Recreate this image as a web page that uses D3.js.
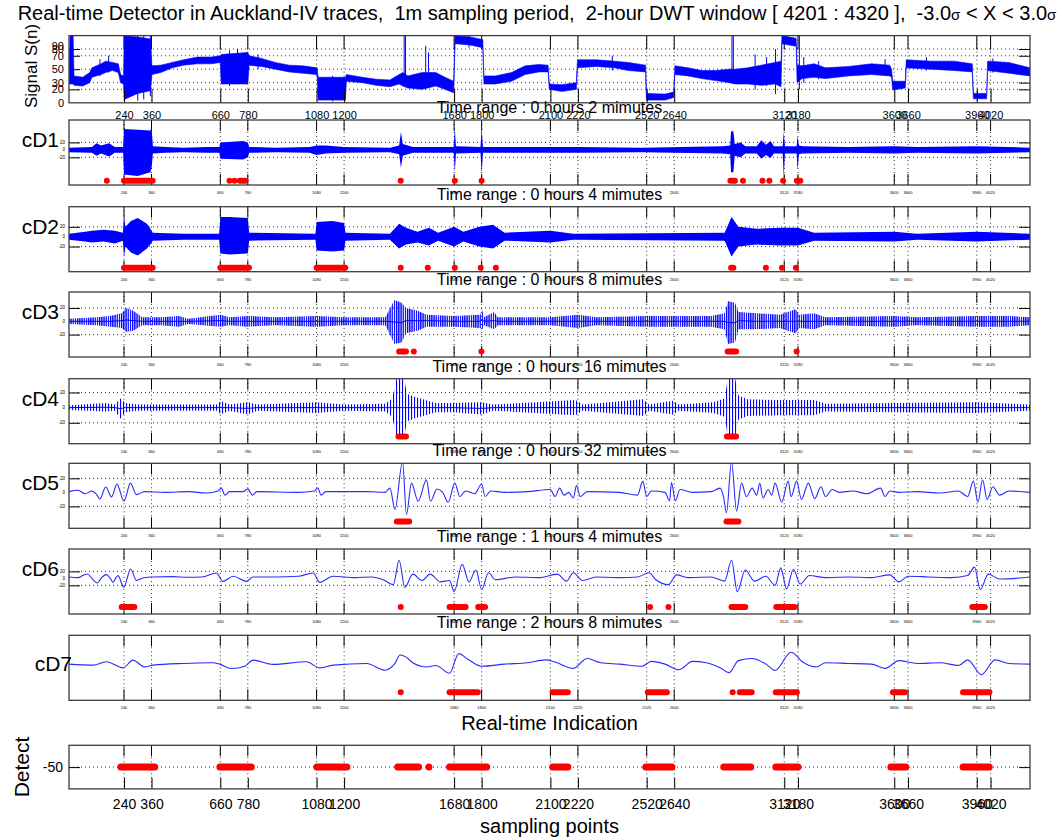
<!DOCTYPE html>
<html lang="en">
<head>
<meta charset="UTF-8">
<title>Real-time Detector in Auckland-IV traces</title>
<script src="https://d3js.org/d3.v7.min.js"></script>
<style>
  body { margin: 0; background: #fff; }
  svg text { font-family: Arial, 'Liberation Sans', sans-serif; fill: #000; }
</style>
</head>
<body>
<svg width="1064" height="840"></svg>
<script>
// ---- data ----
const ticksX = [240, 360, 660, 780, 1080, 1200, 1680, 1800, 2100, 2220, 2520, 2640, 3120, 3180, 3600, 3660, 3960, 4020];
const xMax = 4192;

const topTickVals = [0, 20, 30, 50, 70, 80, 84];
const topTickLabels = ["0", "20", "30", "50", "70", "80", "90"];
const topGrid = [20, 30, 50, 70, 80];

// raw signal S(n): [sample, low, high] (core of the noisy trace)
const signalEnv = [
  [0, 28, 35], [5, 28, 100], [18, 28, 100], [22, 26, 40], [60, 25, 38], [90, 30, 45], [100, 38, 52],
  [140, 42, 58], [160, 45, 62], [190, 48, 60], [215, 45, 58], [225, 30, 42], [238, 28, 40],
  [241, 5, 100], [300, 14, 98], [355, 18, 95], [362, 42, 55], [400, 45, 56], [450, 52, 60],
  [500, 56, 64], [560, 58, 68], [620, 58, 68], [660, 60, 70], [664, 28, 72], [780, 28, 75],
  [786, 56, 70], [840, 54, 66], [900, 50, 60], [960, 46, 56], [1020, 44, 55], [1082, 42, 52],
  [1087, 4, 38], [1206, 4, 38], [1210, 32, 42], [1280, 30, 38], [1340, 26, 35], [1400, 24, 34],
  [1440, 28, 42], [1456, 25, 45], [1478, 22, 40], [1540, 20, 45], [1600, 25, 45], [1640, 20, 38],
  [1678, 15, 32], [1684, 88, 100], [1750, 86, 98], [1805, 82, 94], [1810, 28, 40], [1860, 28, 40],
  [1930, 32, 45], [1990, 42, 55], [2050, 46, 57], [2090, 46, 56], [2095, 20, 28], [2150, 17, 27],
  [2213, 20, 30], [2218, 52, 64], [2300, 54, 64], [2380, 52, 62], [2440, 48, 60], [2515, 46, 56],
  [2519, 4, 14], [2600, 4, 13], [2638, 8, 16], [2643, 42, 55], [2700, 40, 52], [2760, 36, 48],
  [2820, 33, 48], [2880, 30, 50], [2905, 28, 50], [2960, 28, 52], [3020, 26, 56], [3080, 28, 60],
  [3106, 24, 62], [3110, 88, 100], [3172, 84, 96], [3176, 30, 56], [3198, 36, 55], [3250, 38, 58],
  [3300, 36, 52], [3400, 40, 54], [3500, 42, 58], [3580, 40, 56], [3588, 38, 50], [3593, 19, 32],
  [3648, 22, 32], [3652, 52, 64], [3760, 50, 62], [3860, 48, 62], [3940, 46, 58], [3945, 6, 14],
  [4003, 6, 14], [4007, 48, 62], [4100, 44, 60], [4192, 40, 52]
];
// isolated spikes of S(n): [sample, low, high]
const signalSpikes = [
  [14, 28, 100], [135, 40, 65], [173, 45, 70], [300, 3, 100], [326, 5, 100], [355, 10, 100], [700, 25, 78],
  [735, 40, 80], [825, 50, 72], [1150, 2, 40], [1462, 25, 100], [1468, 25, 100], [1556, 20, 85], [1568, 22, 75],
  [1745, 82, 100], [2370, 48, 70], [2892, 30, 100], [2898, 30, 100], [2993, 20, 72], [3043, 25, 68],
  [3082, 13, 80], [3186, 20, 100], [3205, 30, 68], [3270, 35, 62], [3560, 40, 65], [3740, 48, 68], [4030, 45, 66]
];

// wavelet detail coefficients, in units of the 3-sigma threshold: [sample, low, high]
const cD1Env = [
  [0, -0.3, 0.3], [100, -0.4, 0.4], [120, -0.8, 0.9], [140, -0.5, 0.6], [175, -0.9, 0.9], [200, -0.4, 0.4],
  [236, -0.4, 0.4], [240, -3.3, 2.8], [300, -3.5, 2.7], [355, -3.0, 2.6], [360, -2.5, 3.0], [366, -0.5, 0.5],
  [420, -0.4, 0.4], [500, -0.3, 0.3], [600, -0.4, 0.4], [656, -0.4, 0.4], [660, -1.2, 1.0], [760, -1.3, 1.2],
  [780, -1.0, 1.0], [786, -0.4, 0.4], [900, -0.3, 0.3], [1050, -0.4, 0.4], [1080, -0.7, 0.6], [1120, -0.5, 0.6],
  [1200, -0.4, 0.4], [1400, -0.3, 0.3], [1440, -0.6, 0.6], [1448, -2.4, 2.4], [1456, -0.8, 0.8], [1500, -0.4, 0.4],
  [1678, -0.4, 0.4], [1683, -3.0, 2.9], [1688, -0.5, 0.5], [1795, -0.4, 0.4], [1800, -3.2, 2.8], [1806, -0.4, 0.4],
  [2100, -0.4, 0.4], [2220, -0.4, 0.4], [2500, -0.3, 0.3], [2850, -0.5, 0.5], [2884, -0.6, 0.6], [2888, -3.0, 2.5],
  [2898, -3.0, 2.5], [2904, -0.8, 0.8], [2930, -1.0, 1.0], [2950, -0.5, 0.5], [3000, -0.5, 0.5], [3020, -1.2, 1.3],
  [3040, -0.7, 0.7], [3060, -1.1, 1.2], [3075, -0.5, 0.5], [3113, -0.5, 0.5], [3118, -3.6, 2.4], [3123, -0.5, 0.5],
  [3174, -0.5, 0.5], [3178, -2.7, 1.9], [3184, -0.6, 0.6], [3200, -0.5, 0.5], [3400, -0.4, 0.4], [3600, -0.5, 0.5],
  [3700, -0.4, 0.4], [3960, -0.5, 0.5], [4192, -0.3, 0.3]
];
const cD2Env = [
  [0, -0.3, 0.3], [70, -0.5, 0.5], [100, -0.6, 0.6], [150, -0.5, 0.7], [200, -0.7, 0.6], [235, -0.4, 0.4],
  [240, -2.1, 2.2], [246, -1.0, 1.0], [270, -1.6, 1.6], [300, -1.9, 1.9], [340, -1.2, 1.3], [358, -0.7, 0.7],
  [365, -0.4, 0.4], [500, -0.3, 0.3], [655, -0.3, 0.3], [660, -1.7, 2.0], [700, -1.8, 2.0], [780, -1.7, 1.9],
  [786, -0.4, 0.4], [1075, -0.3, 0.3], [1080, -1.4, 1.5], [1150, -1.5, 1.6], [1200, -1.4, 1.4], [1206, -0.4, 0.4],
  [1400, -0.3, 0.3], [1440, -1.2, 1.3], [1470, -0.8, 0.9], [1520, -0.6, 0.5], [1570, -0.9, 0.9], [1610, -0.4, 0.4],
  [1680, -1.0, 1.0], [1720, -0.5, 0.5], [1790, -1.0, 1.0], [1850, -1.2, 1.2], [1900, -0.4, 0.4], [2100, -0.6, 0.6],
  [2200, -0.3, 0.3], [2860, -0.4, 0.4], [2890, -2.0, 2.0], [2920, -1.0, 1.0], [3000, -0.8, 0.8], [3100, -0.9, 0.9],
  [3180, -0.9, 0.9], [3250, -0.4, 0.4], [3600, -0.5, 0.5], [3700, -0.3, 0.3], [3960, -0.5, 0.5], [4192, -0.3, 0.3]
];
const cD3Env = [
  [0, -0.2, 0.2], [120, -0.3, 0.3], [180, -0.4, 0.4], [230, -0.5, 0.6], [250, -0.8, 1.0], [280, -0.7, 0.8],
  [320, -0.3, 0.3], [400, -0.3, 0.3], [480, -0.4, 0.4], [520, -0.2, 0.2], [660, -0.4, 0.5], [700, -0.3, 0.3],
  [780, -0.4, 0.4], [900, -0.3, 0.3], [1080, -0.4, 0.4], [1200, -0.3, 0.3], [1380, -0.3, 0.3], [1420, -1.7, 1.6],
  [1450, -1.6, 1.4], [1470, -0.9, 1.0], [1520, -0.7, 0.8], [1560, -0.4, 0.5], [1680, -0.4, 0.4], [1795, -0.5, 0.5],
  [1800, -0.7, 1.0], [1810, -0.3, 0.3], [1855, -0.6, 0.7], [1870, -0.3, 0.3], [2100, -0.3, 0.3], [2220, -0.5, 0.5],
  [2300, -0.3, 0.3], [2520, -0.4, 0.4], [2640, -0.4, 0.4], [2800, -0.4, 0.4], [2860, -0.6, 0.6], [2875, -1.7, 1.5],
  [2905, -1.6, 1.4], [2920, -0.6, 0.7], [3000, -0.6, 0.6], [3100, -0.5, 0.5], [3170, -0.9, 0.9], [3185, -0.5, 0.5],
  [3250, -0.6, 0.6], [3300, -0.3, 0.3], [3600, -0.4, 0.4], [3700, -0.3, 0.3], [3960, -0.4, 0.4], [4100, -0.4, 0.4],
  [4192, -0.3, 0.3]
];
const cD4Env = [
  [0, -0.15, 0.15], [160, -0.25, 0.3], [200, -0.2, 0.2], [225, -0.73, 0.6], [245, -0.3, 0.3], [300, -0.2, 0.2],
  [500, -0.2, 0.2], [650, -0.2, 0.2], [660, -0.45, 0.45], [700, -0.2, 0.2], [780, -0.45, 0.35], [820, -0.2, 0.2],
  [1080, -0.35, 0.35], [1200, -0.2, 0.2], [1380, -0.25, 0.25], [1410, -0.6, 0.6], [1430, -2.0, 2.0], [1460, -2.0, 2.0],
  [1475, -0.9, 0.9], [1510, -0.7, 0.7], [1600, -0.3, 0.3], [1680, -0.3, 0.3], [1800, -0.45, 0.35], [1850, -0.2, 0.2],
  [2210, -0.5, 0.5], [2240, -0.2, 0.2], [2505, -0.55, 0.55], [2530, -0.2, 0.2], [2634, -0.45, 0.45], [2660, -0.2, 0.2],
  [2810, -0.35, 0.35], [2860, -0.6, 0.6], [2875, -2.0, 2.0], [2905, -2.0, 2.0], [2920, -0.8, 0.8], [2960, -0.55, 0.55],
  [3100, -0.5, 0.5], [3250, -0.5, 0.5], [3300, -0.25, 0.25], [3600, -0.3, 0.3], [3960, -0.35, 0.35], [4192, -0.2, 0.2]
];
// smoother levels: [sample, value]
const cD5Pts = [
  [0, 0.05], [40, 0.15], [70, -0.1], [100, 0.1], [120, -0.15], [135, -0.47], [160, 0.38], [186, -0.32], [209, 0.59],
  [240, -0.63], [268, 0.66], [294, -0.16], [330, 0.05], [420, 0], [520, 0.05], [600, -0.05], [650, 0.1], [665, 0.3],
  [680, -0.2], [700, 0.05], [760, 0.05], [780, 0.25], [800, -0.2], [820, 0.05], [1000, 0], [1070, 0.1], [1085, 0.3],
  [1100, -0.2], [1120, 0.05], [1300, 0.05], [1380, 0], [1400, 0.3], [1422, -1.22], [1455, 2.2], [1472, -1.57],
  [1494, 0.66], [1523, -0.63], [1559, 0.89], [1577, -0.63], [1605, 0.24], [1630, 0], [1654, -0.7], [1683, 0.66],
  [1705, -0.3], [1730, 0.1], [1770, -0.1], [1800, 0.6], [1815, -0.3], [1840, 0.1], [1900, 0], [2000, 0.05],
  [2100, 0.2], [2120, -0.3], [2140, 0.3], [2160, -0.2], [2180, 0], [2200, -0.4], [2214, 0.5], [2230, -0.3],
  [2260, 0.05], [2400, 0], [2480, -0.2], [2503, 0.8], [2520, -0.3], [2540, 0.1], [2600, 0], [2620, -0.6],
  [2628, 0.7], [2645, -0.6], [2665, 0.2], [2720, 0], [2800, 0.05], [2840, 0.3], [2855, -0.3], [2868, -1.45],
  [2890, 2.2], [2912, -1.34], [2934, 0.66], [2955, -0.3], [2980, 0.3], [3000, -0.2], [3013, 0.66], [3027, -0.4],
  [3050, 0.2], [3065, -0.2], [3080, 0.66], [3109, -0.7], [3137, 0.8], [3150, -0.3], [3174, 0.8], [3195, -0.5],
  [3225, 0.66], [3253, -0.45], [3280, 0.4], [3300, -0.3], [3330, 0.2], [3360, 0], [3420, 0.1], [3480, -0.1],
  [3540, 0.3], [3560, -0.3], [3580, 0.1], [3620, 0], [3700, 0.05], [3800, -0.05], [3880, 0.1], [3920, -0.3],
  [3945, 0.8], [3965, -0.7], [3985, 0.9], [4005, -0.5], [4030, 0.4], [4060, -0.2], [4100, 0.1], [4192, 0]
];
const cD6Pts = [
  [0, 0.2], [40, 0.1], [60, 0.4], [80, 0.63], [100, 0], [122, -0.66], [145, 0.2], [164, 0.53], [180, 0],
  [192, -0.57], [205, 0.1], [214, 0.39], [239, -1.28], [269, 1.34], [294, -0.29], [323, 0.06], [360, 0.2],
  [450, 0.25], [520, 0.15], [580, 0.2], [643, 0.77], [672, -0.43], [716, 0.3], [774, -0.43], [803, 0.2],
  [900, 0.2], [1000, 0.3], [1065, 0.77], [1094, -0.57], [1151, 0.3], [1250, 0.1], [1320, 0.2], [1370, -0.19],
  [1415, -0.9], [1440, 2.6], [1465, -1.3], [1500, 0.6], [1540, -0.3], [1575, 0.6], [1620, -0.5], [1660, -0.3],
  [1680, -1.9], [1715, 2.0], [1745, -0.5], [1775, 1.2], [1800, -1.6], [1830, 0.8], [1860, -0.2], [1950, 0.2],
  [2050, 0.1], [2130, 0.6], [2170, -0.4], [2200, 0.8], [2240, -0.3], [2300, 0.2], [2400, 0.1], [2480, 0.2],
  [2530, 0.8], [2560, -0.2], [2615, -0.9], [2650, 0.5], [2700, 0.1], [2800, 0.2], [2860, -0.4], [2890, 2.6],
  [2915, -1.9], [2950, 1.2], [2990, -0.4], [3040, 0.3], [3080, -1.0], [3105, 1.5], [3130, -1.5], [3160, 1.3],
  [3190, -0.8], [3230, 0.4], [3300, 0.1], [3400, 0.2], [3500, 0.1], [3580, 0.5], [3620, -0.5], [3660, 0.3],
  [3750, 0.2], [3850, 0.1], [3920, 0.4], [3950, 1.6], [3975, -1.6], [4010, 0.6], [4060, -0.1], [4192, 0.2]
];
const cD7Pts = [
  [0, 0], [105, -0.14], [163, 0.33], [236, -0.53], [279, 0.57], [330, -0.39], [367, -0.14], [498, 0.1],
  [628, 0.19], [657, 0], [708, -0.61], [767, -0.29], [803, 0.57], [890, -0.04], [1036, 0.33], [1094, -0.53],
  [1152, -0.14], [1298, 0.1], [1377, -0.86], [1422, 0.1], [1444, 1.3], [1470, 1.0], [1500, 0.2], [1560, -0.4],
  [1600, -0.2], [1660, -1.3], [1700, 1.5], [1740, 0.7], [1800, -0.3], [1900, 0.0], [2000, 0.2], [2080, 0.6],
  [2120, 0.3], [2200, -0.6], [2260, 0.8], [2320, 0.2], [2400, 0], [2500, -0.3], [2540, 0.4], [2600, 0.0],
  [2660, -0.8], [2720, 0.4], [2780, 0.2], [2840, -0.5], [2880, -1.2], [2920, 0.5], [2980, 0.8], [3040, 0.0],
  [3080, -0.9], [3150, 1.7], [3200, 0.3], [3260, -0.4], [3300, 0.2], [3400, 0.1], [3500, 0], [3560, -0.6],
  [3620, 0.5], [3700, 0.1], [3800, 0.2], [3880, -0.2], [3920, 0.6], [3980, -1.5], [4040, 0.6], [4100, 0.1],
  [4192, 0]
];

// detections (sample ranges) per level
const cD1Hits = [[165, 165], [240, 365], [700, 700], [722, 722], [745, 770], [1447, 1447], [1683, 1683], [1800, 1800],
  [2885, 2905], [2940, 2940], [3025, 3025], [3055, 3055], [3115, 3115], [3175, 3190]];
const cD2Hits = [[240, 365], [660, 785], [1080, 1205], [1447, 1447], [1565, 1565], [1683, 1683], [1796, 1796],
  [1862, 1862], [2888, 2898], [3040, 3040], [3110, 3110], [3171, 3171]];
const cD3Hits = [[1440, 1470], [1504, 1504], [1799, 1799], [2873, 2910], [3174, 3174]];
const cD4Hits = [[1437, 1470], [2870, 2910]];
const cD5Hits = [[1430, 1484], [2868, 2920]];
const cD6Hits = [[230, 285], [1447, 1447], [1660, 1730], [1785, 1815], [2535, 2535], [2615, 2615], [2890, 2950],
  [3085, 3165], [3940, 3995]];
const cD7Hits = [[1447, 1447], [1660, 1783], [2110, 2176], [2525, 2608], [2895, 2895], [2926, 2978], [3083, 3175],
  [3594, 3646], [3900, 4015]];
const detectHits = [[226, 374], [658, 795], [1081, 1212], [1434, 1525], [1570, 1570], [1660, 1822], [2110, 2176],
  [2516, 2630], [2856, 2974], [3083, 3180], [3585, 3650], [3900, 4014]];

const levelNames = ["cD1", "cD2", "cD3", "cD4", "cD5", "cD6", "cD7"];
const rangeHours = [0, 0, 0, 0, 0, 1, 2];
const rangeMinutes = [2, 4, 8, 16, 32, 4, 8];
const levelDomains = [[-4.7, 4.0], [-3.55, 3.04], [-2.68, 2.2], [-2.38, 1.91], [-2.56, 2.07], [-5.1, 4.2], [-5.14, 4.1]];
const hitLevels = [-4.13, -3.14, -2.26, -1.91, -2.08, -4.09, -4.0];

// ---- layout ----
const svg = d3.select("svg");
const left = 69, right = 1030;
const x = d3.scaleLinear().domain([0, xMax]).range([left, right]);
const panelTops = [120, 206.7, 292, 378.7, 463.3, 549, 635.3];
const panelH = 65;
const BLUE = "#0000ff", RED = "#ff0000";

const defs = svg.append("defs");
defs.append("pattern").attr("id", "hatch").attr("patternUnits", "userSpaceOnUse")
  .attr("width", 2.2).attr("height", 4)
  .append("rect").attr("width", 1.3).attr("height", 4).attr("fill", BLUE);
defs.append("pattern").attr("id", "hatch-thin").attr("patternUnits", "userSpaceOnUse")
  .attr("width", 3.0).attr("height", 4)
  .append("rect").attr("width", 1.1).attr("height", 4).attr("fill", BLUE);

function clipFor(id, top, bottom) {
  defs.append("clipPath").attr("id", id).append("rect")
    .attr("x", left).attr("y", top).attr("width", right - left).attr("height", bottom - top);
  return `url(#${id})`;
}

function vGrid(g, top, bottom, tickLen) {
  g.selectAll(null).data(ticksX).join("line")
    .attr("x1", d => x(d)).attr("x2", d => x(d)).attr("y1", top).attr("y2", bottom)
    .attr("stroke", "#000").attr("stroke-width", 0.8).attr("stroke-dasharray", "1,3");
  g.selectAll(null).data(ticksX).join("line")
    .attr("x1", d => x(d)).attr("x2", d => x(d)).attr("y1", top).attr("y2", top + tickLen)
    .attr("stroke", "#000");
}

function hGrid(g, y, vals) {
  g.selectAll(null).data(vals).join("line")
    .attr("x1", left).attr("x2", right).attr("y1", d => y(d)).attr("y2", d => y(d))
    .attr("stroke", "#000").attr("stroke-width", 0.8).attr("stroke-dasharray", "1,3");
  g.append("g").attr("transform", `translate(${left},0)`)
    .call(d3.axisLeft(y).tickValues(vals).tickSize(-11).tickFormat(""))
    .call(a => a.select(".domain").remove());
  g.append("g").attr("transform", `translate(${right},0)`)
    .call(d3.axisRight(y).tickValues(vals).tickSize(-11).tickFormat(""))
    .call(a => a.select(".domain").remove());
}

function bottomAxis(g, bottom, fontSize, pad, tickLen) {
  const ax = g.append("g").attr("transform", `translate(0,${bottom})`)
    .call(d3.axisBottom(x).tickValues(ticksX).tickSize(-tickLen).tickPadding(pad).tickFormat(d => String(d)));
  ax.select(".domain").remove();
  ax.selectAll("line").attr("stroke", "#000");
  ax.selectAll("text").attr("font-size", fontSize).attr("font-family", "Arial, 'Liberation Sans', sans-serif");
}

function frame(g, top, bottom) {
  g.append("rect").attr("x", left).attr("y", top).attr("width", right - left).attr("height", bottom - top)
    .attr("fill", "none").attr("stroke", "#3c3c3c").attr("stroke-width", 1.3);
}

function hits(g, y, data, level, width) {
  g.selectAll(null).data(data).join("line")
    .attr("x1", d => x(d[0])).attr("x2", d => x(d[1]))
    .attr("y1", y(level)).attr("y2", y(level))
    .attr("stroke", RED).attr("stroke-width", width).attr("stroke-linecap", "round");
}

// ---- title ----
const title = svg.append("text").attr("x", 537).attr("y", 20).attr("text-anchor", "middle")
  .attr("font-size", 20).style("white-space", "pre");
title.append("tspan").text("Real-time Detector in Auckland-IV traces,  1m sampling period,  2-hour DWT window [ 4201 : 4320 ],  -3.0");
title.append("tspan").attr("font-size", 15).text("σ");
title.append("tspan").text(" < X < 3.0");
title.append("tspan").attr("font-size", 15).text("σ");

// ---- top panel: raw signal ----
{
  const top = 35.6, bottom = 102.8;
  const g = svg.append("g");
  const y = d3.scaleLinear().domain([0, 100]).range([bottom, top]);
  hGrid(g, y, topGrid);
  vGrid(g, top, bottom, 14);
  const clip = clipFor("clip-top", top, bottom);
  g.append("path").datum(signalEnv)
    .attr("d", d3.area().x(d => x(d[0])).y0(d => y(d[1])).y1(d => y(d[2])))
    .attr("fill", BLUE).attr("stroke", BLUE).attr("stroke-width", 0.6).attr("clip-path", clip);
  g.selectAll(null).data(signalSpikes).join("line")
    .attr("x1", d => x(d[0])).attr("x2", d => x(d[0])).attr("y1", d => y(d[1])).attr("y2", d => y(d[2]))
    .attr("stroke", BLUE).attr("stroke-width", 1).attr("clip-path", clip);
  bottomAxis(g, bottom, 11, 8, 14);
  g.append("g").attr("transform", `translate(${left},0)`)
    .call(d3.axisLeft(y).tickValues(topTickVals).tickSize(0).tickPadding(5).tickFormat((d, i) => topTickLabels[i]))
    .call(a => a.select(".domain").remove())
    .call(a => a.selectAll("text").attr("font-size", 11));
  frame(g, top, bottom);
  svg.append("text").attr("transform", "translate(37,66) rotate(-90)").attr("text-anchor", "middle")
    .attr("font-size", 17).text("Signal S(n)");
}

// ---- detail levels ----
const bands = [cD1Env, cD2Env, cD3Env, cD4Env];
const bandFills = [BLUE, BLUE, "url(#hatch)", "url(#hatch-thin)"];
const lines = [null, null, null, null, cD5Pts, cD6Pts, cD7Pts];
const hitSets = [cD1Hits, cD2Hits, cD3Hits, cD4Hits, cD5Hits, cD6Hits, cD7Hits];

levelNames.forEach((name, i) => {
  const top = panelTops[i], bottom = top + panelH;
  const g = svg.append("g");
  const y = d3.scaleLinear().domain(levelDomains[i]).range([bottom, top]);
  if (i < 6) hGrid(g, y, [-1, 1]);
  vGrid(g, top, bottom, 11);
  g.append("g").attr("transform", `translate(0,${bottom})`).call(gg => {
    gg.selectAll(null).data(ticksX).join("line")
      .attr("x1", d => x(d)).attr("x2", d => x(d)).attr("y1", 0).attr("y2", -11).attr("stroke", "#000");
  });
  const clip = clipFor("clip-" + name, top, bottom);
  if (i < 4) {
    const env = bands[i];
    g.append("path").datum(env)
      .attr("d", d3.area().x(d => x(d[0])).y0(d => y(d[1])).y1(d => y(d[2])))
      .attr("fill", bandFills[i]).attr("clip-path", clip);
    g.append("path").datum(env)
      .attr("d", d3.line().x(d => x(d[0])).y(d => y((d[1] + d[2]) / 2)))
      .attr("fill", "none").attr("stroke", BLUE).attr("stroke-width", 1).attr("clip-path", clip);
  } else {
    g.append("path").datum(lines[i])
      .attr("d", d3.line().curve(d3.curveMonotoneX).x(d => x(d[0])).y(d => y(d[1])))
      .attr("fill", "none").attr("stroke", "#2a2aff").attr("stroke-width", 1.1).attr("clip-path", clip);
  }
  hits(g, y, hitSets[i], hitLevels[i], 6);
  frame(g, top, bottom);

  // tiny tick labels under each level
  g.selectAll(null).data(ticksX).join("text")
    .attr("x", d => x(d)).attr("y", bottom + 9).attr("text-anchor", "middle")
    .attr("font-size", 4).attr("fill", "#333").text(d => d);
  if (i < 6) {
    g.selectAll(null).data([1, 0, -1]).join("text")
      .attr("x", 65).attr("y", d => y(d) + 1.5).attr("text-anchor", "end")
      .attr("font-size", 4.5).attr("fill", "#333").text(d => d === 0 ? "0" : (d > 0 ? "20" : "-20"));
  }

  svg.append("text").attr("x", 549.5).attr("y", top - 7).attr("text-anchor", "middle").attr("font-size", 16)
    .text(`Time range : ${rangeHours[i]} hours ${rangeMinutes[i]} mimutes`);
  svg.append("text").attr("x", i < 6 ? 59 : 72).attr("y", top + (i < 6 ? 27 : 36))
    .attr("text-anchor", "end").attr("font-size", 21).text(name);
});

// ---- real-time indication panel ----
{
  const top = 745.3, bottom = 788.9;
  const g = svg.append("g");
  const y = d3.scaleLinear().domain([-100, 0]).range([bottom, top]);
  hGrid(g, y, [-50]);
  vGrid(g, top, bottom, 11);
  bottomAxis(g, bottom, 14, 10, 11);
  g.append("g").attr("transform", `translate(${left},0)`)
    .call(d3.axisLeft(y).tickValues([-50]).tickSize(0).tickPadding(6).tickFormat(d => String(d)))
    .call(a => a.select(".domain").remove())
    .call(a => a.selectAll("text").attr("font-size", 14));
  hits(g, y, detectHits, -50, 7);
  frame(g, top, bottom);
  svg.append("text").attr("x", 549.5).attr("y", 730).attr("text-anchor", "middle").attr("font-size", 20)
    .text("Real-time Indication");
  svg.append("text").attr("x", 549.5).attr("y", 833).attr("text-anchor", "middle").attr("font-size", 20)
    .text("sampling points");
  svg.append("text").attr("transform", "translate(29,767) rotate(-90)").attr("text-anchor", "middle")
    .attr("font-size", 21).text("Detect");
}
</script>
</body>
</html>
